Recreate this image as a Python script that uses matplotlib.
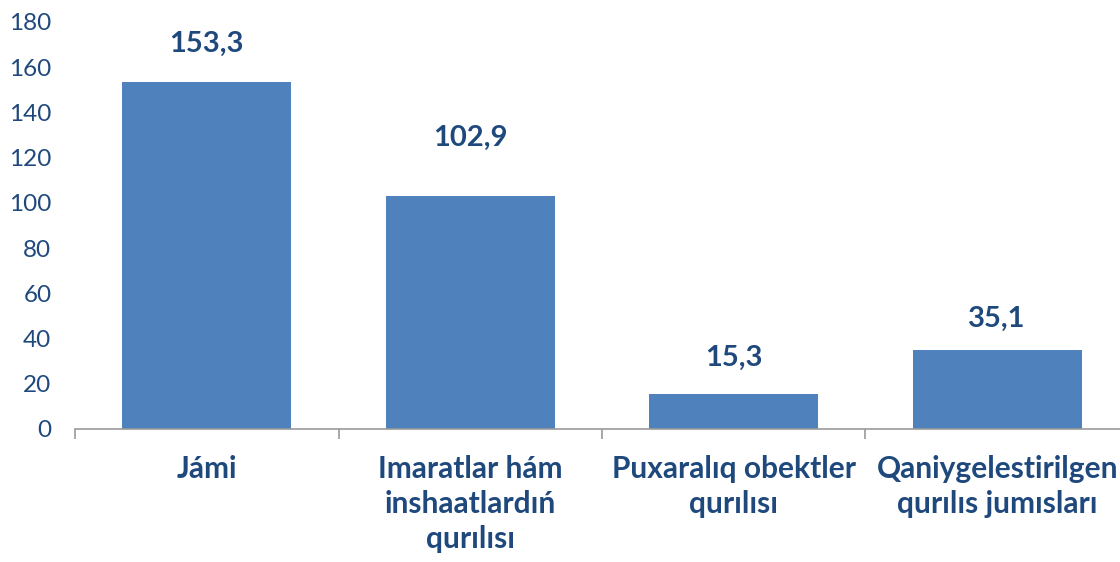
import matplotlib.pyplot as plt
import numpy as np

categories = ["Jámi", "Imaratlar hám\ninshaatlardıń\nqurılısı",
              "Puxaralıq obektler\nqurılısı", "Qaniygelestirilgen\nqurılıs jumısları"]
values = [153.3, 102.9, 15.3, 35.1]
value_labels = ["153,3", "102,9", "15,3", "35,1"]
y_ticks = [0, 20, 40, 60, 80, 100, 120, 140, 160, 180]

# Offsets (points) of the value labels above the bars, as placed in the original
label_offsets = [28, 42, 26, 22]

bar_color = "#4F81BD"
text_color = "#1F497D"
axis_color = "#9A9A9A"

plt.rcParams['font.family'] = ['Lato', 'DejaVu Sans']

fig = plt.figure(figsize=(11.2, 5.62), dpi=100)
ax = fig.add_axes([0.067, 0.2367, 0.941, 0.7242])

x = np.arange(len(categories))
bars = ax.bar(x, values, width=0.64, color=bar_color, zorder=2)

for rect, lab, off in zip(bars, value_labels, label_offsets):
    ax.annotate(lab, (rect.get_x() + rect.get_width() / 2, rect.get_height()),
                xytext=(0, off), textcoords="offset points", ha="center", va="center",
                fontsize=21, fontweight="bold", color=text_color)

ax.set_xlim(-0.5, len(categories) - 0.5)
ax.set_ylim(0, 180)
ax.set_yticks(y_ticks)
ax.set_yticklabels([str(t) for t in y_ticks], fontsize=17.5, color=text_color)
ax.tick_params(axis="y", length=0, pad=17)

ax.set_xticks(x)
ax.set_xticklabels(categories, fontsize=21.5, fontweight="bold", color=text_color,
                   linespacing=1.3)
ax.tick_params(axis="x", which="major", length=0, pad=19)
ax.set_xticks(np.arange(-0.5, len(categories), 1), minor=True)
ax.tick_params(axis="x", which="minor", length=7, width=1.2, color=axis_color, direction="out")

for side in ["top", "right", "left"]:
    ax.spines[side].set_visible(False)
ax.spines["bottom"].set_color(axis_color)
ax.spines["bottom"].set_linewidth(1.2)

fig.savefig("out.png", dpi=100)
